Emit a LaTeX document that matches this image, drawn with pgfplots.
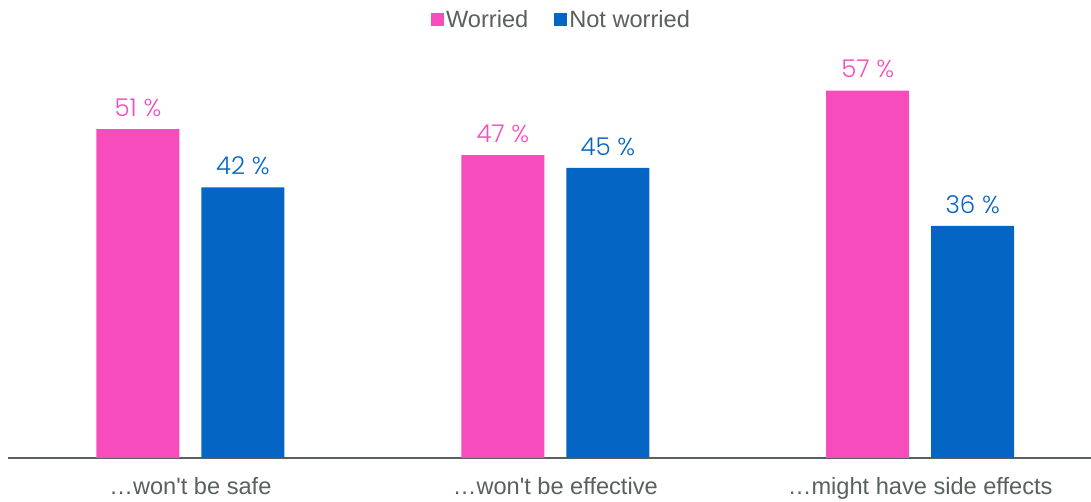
\documentclass[border=0pt]{standalone}
\usepackage{fontspec}
\setmainfont{Liberation Sans}
\newfontfamily\valfont{Poppins Light}
\usepackage{pgfplots}
\pgfplotsset{compat=1.18}
\definecolor{pinkbar}{RGB}{247,77,188}
\definecolor{bluebar}{RGB}{5,101,196}
\definecolor{txtgray}{RGB}{89,96,94}
\definecolor{axgray}{RGB}{89,96,94}
\begin{document}
\begin{tikzpicture}
\path[use as bounding box] (0,0) rectangle (1091pt,502pt);
\begin{axis}[
  at={(8pt,44pt)}, anchor=south west,
  scale only axis,
  width=1083pt, height=419pt,
  xmin=-0.5, xmax=2.468,
  ymin=0, ymax=65,
  ybar=22pt, bar width=83pt,
  axis y line=none,
  axis x line*=bottom,
  x axis line style={draw=axgray, line width=2pt, -},
  xtick=data,
  xticklabels={\ldots won\textquotesingle t be safe, \ldots won\textquotesingle t be effective, \ldots might have side effects},
  xtick style={draw=none},
  x tick label style={font=\fontsize{23.6}{28}\selectfont, text=txtgray, yshift=-12pt},
  /pgf/number format/assume math mode=true,
  nodes near coords={\valfont\fontsize{24.5}{29}\selectfont\pgfmathprintnumber{\pgfplotspointmeta}~\%},
  nodes near coords style={anchor=south, yshift=9pt},
  legend columns=2,
  legend style={draw=none, at={(0.5,1)}, anchor=south, xshift=12pt, yshift=6pt,
    font=\fontsize{23.6}{28}\selectfont, text=txtgray,
    /tikz/every even column/.append style={column sep=24pt}},
  legend image code/.code={\fill[#1] (-3pt,-7pt) rectangle (10pt,6pt);},
]
\addplot[draw=none, fill=pinkbar, nodes near coords style={text=pinkbar}] coordinates {(0,51) (1,47) (2,57)};
\addplot[draw=none, fill=bluebar, nodes near coords style={text=bluebar}] coordinates {(0,42) (1,45) (2,36)};
\legend{Worried, Not worried}
\end{axis}
\end{tikzpicture}
\end{document}
